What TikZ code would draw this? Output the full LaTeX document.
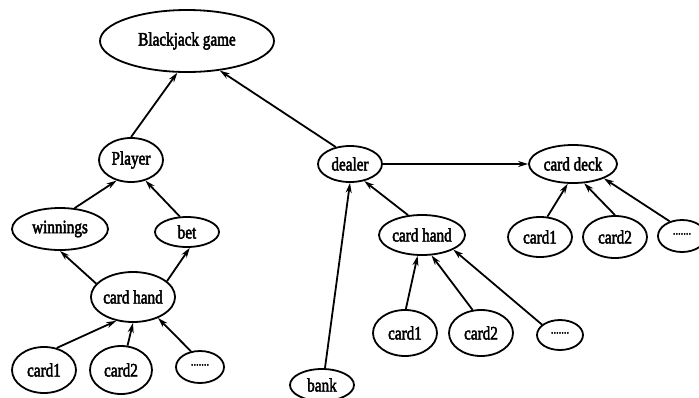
\documentclass[tikz,border=0pt]{standalone}
\usepackage{fontspec}
\setmainfont{Liberation Serif}[FakeStretch=0.8]
\newfontfamily\labelfont{Liberation Serif}[FakeStretch=0.8,FakeBold=2.5]
\usetikzlibrary{shapes.geometric,arrows.meta}
\newcommand{\morecards}{\raisebox{0.5ex}{\fontsize{13}{13}\selectfont.......}}
\tikzset{
  obj/.style={draw, ellipse, line width=1.8pt, inner sep=0pt, font=\labelfont\fontsize{19}{21}\selectfont},
  link/.style={line width=1.8pt, -{Stealth[length=10pt,width=6pt]}},
}
\begin{document}
\begin{tikzpicture}[x=1pt,y=-1pt]
\clip (0,0) rectangle (699,397);
\useasboundingbox (0,0) rectangle (699,397);
% top level
\node[obj, minimum width=174pt, minimum height=62pt] (game) at (187,41) {Blackjack game};
\node[obj, minimum width=64pt, minimum height=44pt] (player) at (131,160) {Player};
\node[obj, minimum width=64pt, minimum height=36pt] (dealer) at (350,164) {dealer};
\node[obj, minimum width=88pt, minimum height=38pt] (deck) at (573,164) {card deck};
% player side
\node[obj, minimum width=96pt, minimum height=42pt] (win) at (60,229) {winnings};
\node[obj, minimum width=64pt, minimum height=30pt] (bet) at (187,232) {bet};
\node[obj, minimum width=84pt, minimum height=50pt] (phand) at (133,297) {card hand};
\node[obj, minimum width=64pt, minimum height=46pt] (pc1) at (44,370) {card1};
\node[obj, minimum width=62pt, minimum height=48pt] (pc2) at (121,370) {card2};
\node[obj, minimum width=48pt, minimum height=32pt] (pc3) at (200,367) {\morecards};
% dealer side
\node[obj, minimum width=64pt, minimum height=32pt] (bank) at (322,385) {bank};
\node[obj, minimum width=86pt, minimum height=40pt] (dhand) at (422,235) {card hand};
\node[obj, minimum width=64pt, minimum height=46pt] (dc1) at (405,333) {card1};
\node[obj, minimum width=64pt, minimum height=46pt] (dc2) at (481,333) {card2};
\node[obj, minimum width=46pt, minimum height=30pt] (dc3) at (560,335) {\morecards};
% deck side
\node[obj, minimum width=64pt, minimum height=40pt] (kc1) at (540,237) {card1};
\node[obj, minimum width=64pt, minimum height=42pt] (kc2) at (615,237) {card2};
\node[obj, minimum width=48pt, minimum height=32pt] (kc3) at (682,236) {\morecards};
% connectors
\draw[link] (player.north) -- (game.253);
\draw[link] (dealer.130) -- (game.-42);
\draw[link] (dealer.east) -- (deck.west);
\draw[link] (dhand.125) -- (dealer.-50);
\draw[link] (bank.80) -- (dealer.-90);
\draw[link] (dc1.88) -- (dhand.-102);
\draw[link] (dc2.110) -- (dhand.-65);
\draw[link] (dc3.150) -- (dhand.-25);
\draw[link] (kc1.70) -- (deck.-105);
\draw[link] (kc2.90) -- (deck.-60);
\draw[link] (kc3.130) -- (deck.-25);
\draw[link] (win.55) -- (player.-125);
\draw[link] (bet.115) -- (player.-55);
\draw[link] (phand.160) -- (win.-90);
\draw[link] (phand.25) -- (bet.-80);
\draw[link] (pc1.60) -- (phand.-125);
\draw[link] (pc2.75) -- (phand.-90);
\draw[link] (pc3.120) -- (phand.-40);
\end{tikzpicture}
\end{document}
